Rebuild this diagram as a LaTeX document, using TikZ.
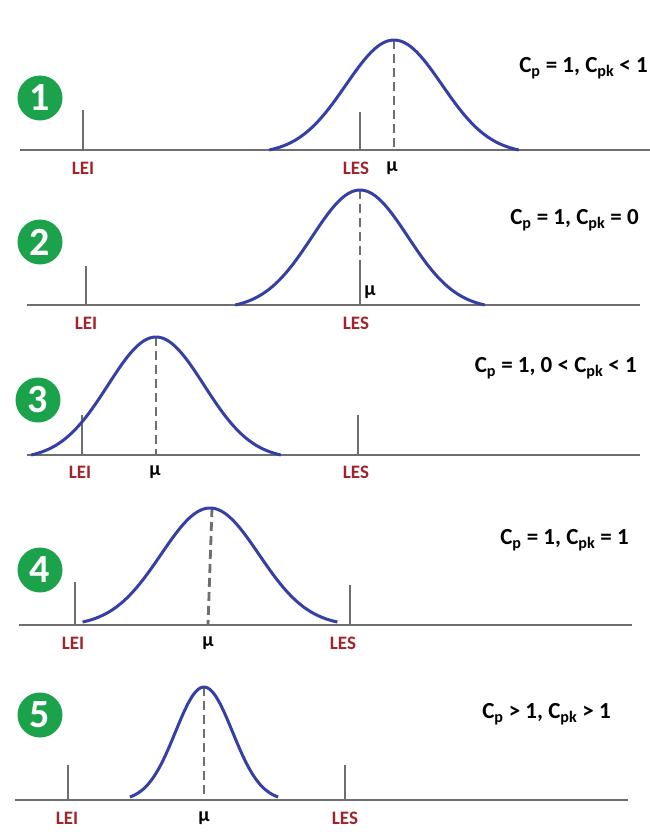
\documentclass[tikz,border=0pt]{standalone}
\usepackage{fontspec}
\setmainfont{Carlito}
\definecolor{badgegreen}{HTML}{1BA24B}
\definecolor{limred}{HTML}{A3232B}
\definecolor{bellblue}{HTML}{3440A6}
\definecolor{axisgray}{HTML}{6E6E6E}
\begin{document}
\begin{tikzpicture}[x=1pt, y=-1pt,
  declare function={bell(\t)=(exp(-\t*\t/2)-0.0340)/0.9660;},
  badge/.style={circle, fill=badgegreen, text=white, minimum size=45pt, inner sep=0pt,
    font=\fontsize{40}{40}\selectfont\bfseries},
  limit/.style={text=limred, inner sep=1pt, font=\fontsize{19}{19}\selectfont\bfseries},
  mean/.style={text=black, inner sep=1pt, font=\fontsize{20}{20}\selectfont\bfseries},
  index/.style={text=black, inner sep=1pt, anchor=east, font=\fontsize{23}{23}\selectfont\bfseries},
  axis/.style={draw=axisgray, line width=2.8pt},
  tick/.style={draw=axisgray, line width=2.2pt},
  curve/.style={draw=bellblue, line width=3pt, smooth, samples=60},
  centre/.style={draw=axisgray, line width=2.8pt, dash pattern=on 9pt off 5pt}]
  \useasboundingbox (0,0) rectangle (650,832);

  % 1
  \node[badge] (n1) at (40,98) {1};
  \node[index] (c1) at (649,68) {C\textsubscript{p} = 1, C\textsubscript{pk} < 1};
  \draw[axis] (20,150) -- (650,150);
  \draw[tick] (83,150) -- (83,110);
  \draw[tick] (360,150) -- (360,112);
  \draw[centre] (394,40) -- (394,150);
  \draw[curve, shift={(394,40)}] plot[domain=-2.6:2.6] ({48*\x},{110*(1-bell(\x))});
  \node[limit] (lei1) at (83,168) {LEI};
  \node[limit] (les1) at (356,168) {LES};
  \node[mean] (mu1) at (392,168) {μ};

  % 2
  \node[badge] (n2) at (40,242) {2};
  \node[index] (c2) at (640,220) {C\textsubscript{p} = 1, C\textsubscript{pk} = 0};
  \draw[axis] (27,305) -- (640,305);
  \draw[tick] (86,305) -- (86,266);
  \draw[tick] (360,305) -- (360,266);
  \draw[centre] (360,190) -- (360,266);
  \draw[curve, shift={(360,190)}] plot[domain=-2.6:2.6] ({48*\x},{115*(1-bell(\x))});
  \node[mean] (mu2) at (370,292) {μ};
  \node[limit] (lei2) at (86,323) {LEI};
  \node[limit] (les2) at (356,323) {LES};

  % 3
  \node[badge] (n3) at (38,400) {3};
  \node[index] (c3) at (638,368) {C\textsubscript{p} = 1, 0 < C\textsubscript{pk} < 1};
  \draw[axis] (27,455) -- (640,455);
  \draw[tick] (82,455) -- (82,415);
  \draw[tick] (358,455) -- (358,415);
  \draw[centre] (156,337) -- (156,455);
  \draw[curve, shift={(156,337)}] plot[domain=-2.6:2.6] ({48*\x},{118*(1-bell(\x))});
  \node[limit] (lei3) at (80,472) {LEI};
  \node[mean] (mu3) at (155,472) {μ};
  \node[limit] (les3) at (356,472) {LES};

  % 4
  \node[badge] (n4) at (40,570) {4};
  \node[index] (c4) at (630,540) {C\textsubscript{p} = 1, C\textsubscript{pk} = 1};
  \draw[axis] (19,625) -- (632,625);
  \draw[tick] (75,625) -- (75,582);
  \draw[tick] (350,625) -- (350,585);
  \draw[centre] (212,508) -- (208,625);
  \draw[curve, shift={(210,508)}] plot[domain=-2.6:2.6] ({49*\x},{114*(1-bell(\x))});
  \node[limit] (lei4) at (73,643) {LEI};
  \node[mean] (mu4) at (208,643) {μ};
  \node[limit] (les4) at (343,643) {LES};

  % 5
  \node[badge] (n5) at (40,715) {5};
  \node[index] (c5) at (612,714) {C\textsubscript{p} > 1, C\textsubscript{pk} > 1};
  \draw[axis] (15,800) -- (628,800);
  \draw[tick] (68,800) -- (68,765);
  \draw[tick] (345,800) -- (345,765);
  \draw[centre] (204,687) -- (204,800);
  \draw[curve, shift={(204,687)}] plot[domain=-2.6:2.6] ({28.5*\x},{110*(1-bell(\x))});
  \node[limit] (lei5) at (67,818) {LEI};
  \node[mean] (mu5) at (204,818) {μ};
  \node[limit] (les5) at (345,818) {LES};
\end{tikzpicture}
\end{document}
